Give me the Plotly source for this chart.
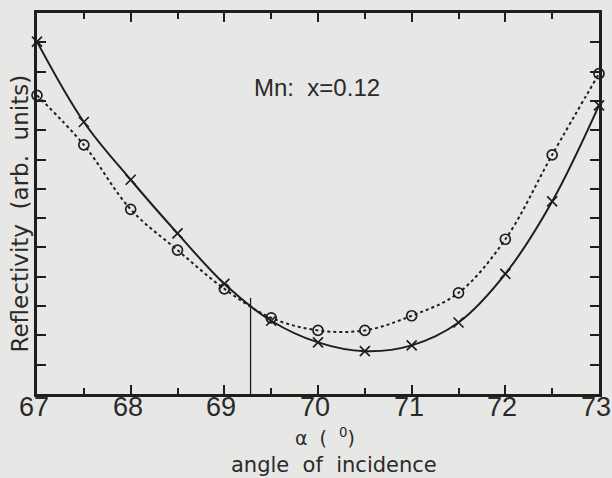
import plotly.graph_objects as go

angles = [67, 67.5, 68, 68.5, 69, 69.5, 70, 70.5, 71, 71.5, 72, 72.5, 73]
refl_cross = [12.02, 9.28, 7.31, 5.48, 3.76, 2.5, 1.76, 1.46, 1.66, 2.44, 4.1, 6.57, 9.85]
refl_circle = [10.19, 8.5, 6.3, 4.91, 3.59, 2.6, 2.17, 2.17, 2.67, 3.45, 5.28, 8.16, 10.93]
marker_x = [69.28, 69.28]
marker_y = [0, 3.28]
x_ticks = [67, 68, 69, 70, 71, 72, 73]

ink = "#1e1e1e"
txt = "#2a2a2a"
bg = "#e7e7e5"
font = "Liberation Sans"
wide = "DejaVu Sans"

W, H = 612, 478
L, R, T, B = 37, 11, 10, 84
pw, ph = W - L - R, H - T - B


def px_x(p):
    return (p - L) / pw


def px_y(p):
    return (H - B - p) / ph


fig = go.Figure()
fig.add_trace(go.Scatter(x=angles, y=refl_cross, mode="lines+markers",
                         line=dict(color=ink, width=2, shape="spline", smoothing=1.0),
                         marker=dict(symbol="x-thin", size=10, line=dict(color=ink, width=1.7)),
                         showlegend=False, cliponaxis=False))
fig.add_trace(go.Scatter(x=angles, y=refl_circle, mode="lines+markers",
                         line=dict(color=ink, width=2, dash="dot", shape="spline", smoothing=1.0),
                         marker=dict(symbol="circle-open", size=10, color=ink, line=dict(color=ink, width=1.7)),
                         showlegend=False, cliponaxis=False))
fig.add_trace(go.Scatter(x=marker_x, y=marker_y, mode="lines",
                         line=dict(color=ink, width=1.3), showlegend=False))

annotations = [
    dict(text=str(v), x=v, xref="x", y=px_y(407), yref="paper", xshift=-3,
         xanchor="center", yanchor="middle", showarrow=False,
         font=dict(size=27, family=font, color=txt))
    for v in x_ticks
]
annotations += [
    dict(text="Mn:  x=0.12", x=px_x(318), xref="paper", y=px_y(85), yref="paper",
         xanchor="center", yanchor="middle", showarrow=False,
         font=dict(size=24, family=font, color=txt)),
    dict(text="Reflectivity  (arb.  units)", x=px_x(20), xref="paper", y=px_y(212), yref="paper",
         xanchor="center", yanchor="middle",
         textangle=-90, showarrow=False, font=dict(size=23, family=wide, color=txt)),
    dict(text="α  (  <sup>0</sup>)", x=px_x(326), xref="paper", y=px_y(437), yref="paper",
         xanchor="center", showarrow=False, yanchor="middle", font=dict(size=19, family=wide, color=txt)),
    dict(text="angle  of  incidence", x=px_x(335), xref="paper", y=px_y(466), yref="paper",
         xanchor="center", showarrow=False, yanchor="middle", font=dict(size=21, family=wide, color=txt)),
]

fig.update_layout(
    width=W, height=H,
    paper_bgcolor=bg, plot_bgcolor=bg,
    margin=dict(l=L, r=R, t=T, b=B),
    font=dict(family=font, color=txt),
    xaxis=dict(range=[67, 73], tickmode="array", tickvals=x_ticks, showticklabels=False,
               ticks="inside", ticklen=9, tickwidth=2, tickcolor=ink,
               minor=dict(dtick=0.5, ticks="inside", ticklen=6, tickwidth=2, tickcolor=ink),
               showline=True, linecolor=ink, linewidth=3, mirror="ticks",
               showgrid=False, zeroline=False),
    yaxis=dict(range=[0, 13], dtick=1, showticklabels=False,
               ticks="inside", ticklen=9, tickwidth=2, tickcolor=ink,
               showline=True, linecolor=ink, linewidth=3, mirror="ticks",
               showgrid=False, zeroline=False),
    annotations=annotations,
)

fig.write_html("out.html", config={"displayModeBar": False},
               post_script="document.body.style.margin='0px';document.body.style.overflow='hidden';")
